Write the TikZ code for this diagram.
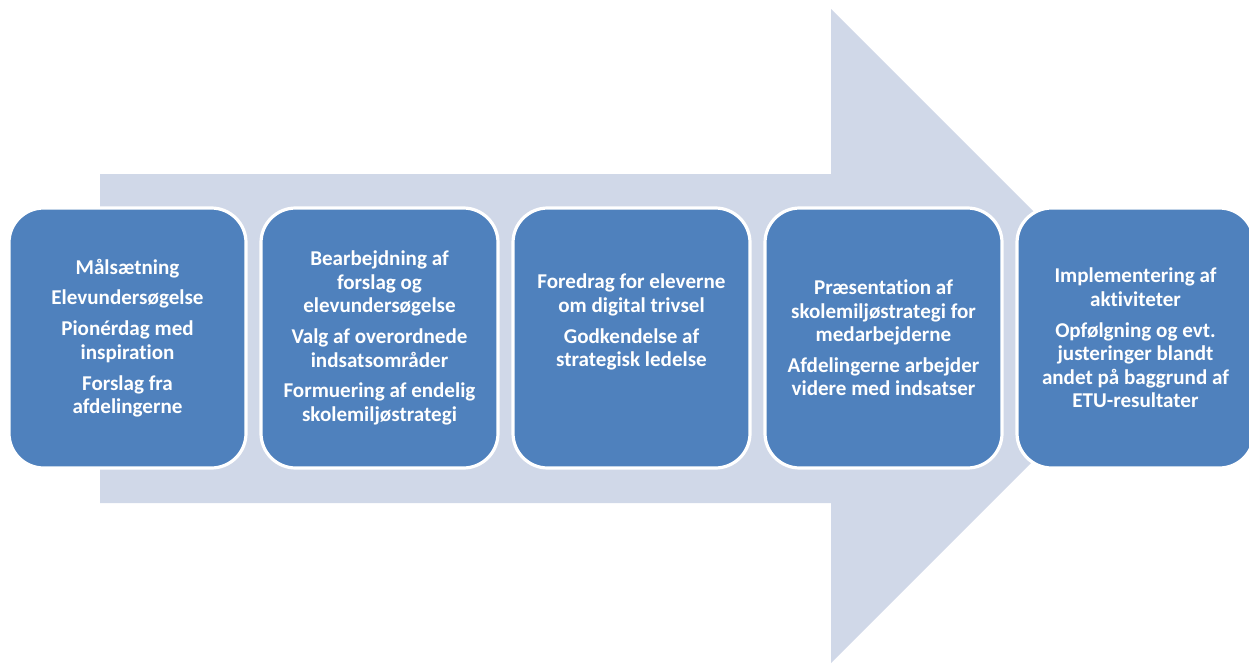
\documentclass[tikz,border=0pt]{standalone}
\usepackage{fontspec}
\setmainfont{Carlito}[Ligatures={NoCommon}]
\definecolor{arrowfill}{HTML}{D0D8E8}
\definecolor{boxfill}{HTML}{4F81BD}
\begin{document}
\begin{tikzpicture}[x=0.75pt,y=-0.75pt,
  stagebox/.style={rectangle, rounded corners=26pt, fill=boxfill, draw=white, line width=2.4pt,
    minimum width=177.75pt, minimum height=195pt, inner sep=0pt},
  stagetext/.style={text=white, align=center, font=\fontsize{15.8}{17.6}\selectfont\bfseries, inner sep=0pt}
]
\useasboundingbox (0,0) rectangle (1249,664);
\clip (0,0) rectangle (1249,664);
% big arrow
\fill[arrowfill] (100,174) -- (831,174) -- (831,9) -- (1158,336) -- (831,663) -- (831,503) -- (100,503) -- cycle;
% boxes
\node[stagebox] (b1) at (127.5,338) {};
\node[stagebox] (b2) at (379.5,338) {};
\node[stagebox] (b3) at (631.5,338) {};
\node[stagebox] (b4) at (883.5,338) {};
\node[stagebox] (b5) at (1135.5,338) {};
% texts
\node[stagetext] (t1) at (b1.center) {Målsætning\\[5.5pt]Elevundersøgelse\\[5.5pt]Pionérdag med\\inspiration\\[5.5pt]Forslag fra\\afdelingerne};
\node[stagetext] (t2) at (b2.center) {Bearbejdning af\\forslag og\\elevundersøgelse\\[5.5pt]Valg af overordnede\\indsatsområder\\[5.5pt]Formuering af endelig\\skolemiljøstrategi};
\node[stagetext] (t3) at ([yshift=12pt]b3.center) {Foredrag for eleverne\\om digital trivsel\\[5.5pt]Godkendelse af\\strategisk ledelse};
\node[stagetext] (t4) at (b4.center) {Præsentation af\\skolemiljøstrategi for\\medarbejderne\\[5.5pt]Afdelingerne arbejder\\videre med indsatser};
\node[stagetext] (t5) at (b5.center) {Implementering af\\aktiviteter\\[5.5pt]Opfølgning og evt.\\justeringer blandt\\andet på baggrund af\\ETU-resultater};
\end{tikzpicture}
\end{document}
